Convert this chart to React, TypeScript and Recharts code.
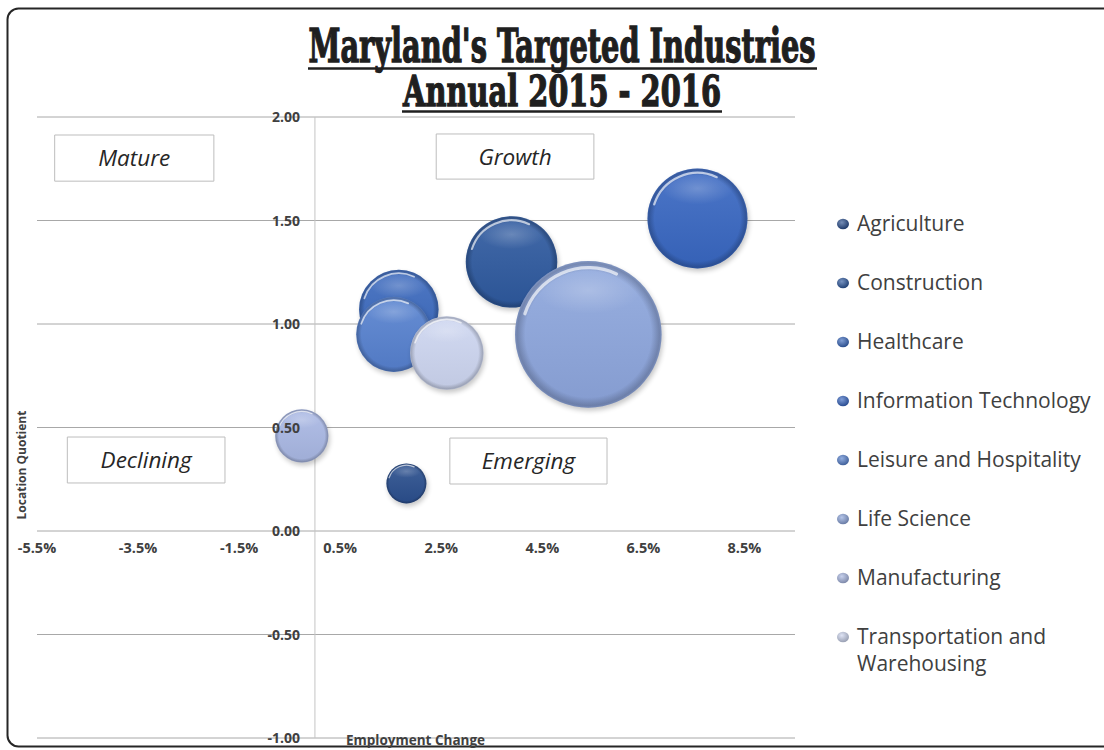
import React from 'react';
import {
  ScatterChart,
  Scatter,
  XAxis,
  YAxis,
  ZAxis,
  CartesianGrid,
  ReferenceLine,
  ReferenceArea,
  Legend,
  Label,
} from 'recharts';

// ---------------- data ----------------
const industries = [
  'Agriculture',
  'Construction',
  'Healthcare',
  'Information Technology',
  'Leisure and Hospitality',
  'Life Science',
  'Manufacturing',
  'Transportation and Warehousing',
];
const employmentChange = [1.81, 3.89, 1.66, 7.57, 1.56, 5.41, -0.26, 2.61];
const locationQuotient = [0.23, 1.3, 1.07, 1.51, 0.95, 0.95, 0.46, 0.86];
const bubbleSize = [4.0, 20.9, 15.8, 25.0, 14.1, 53.7, 7.1, 13.5];
const seriesColors = ['#2b4f8e', '#2e599f', '#3b69bd', '#3867c2', '#5681cf', '#8da6dd', '#a9b8e4', '#cdd6f0'];

const xTicks = [-5.5, -3.5, -1.5, 0.5, 2.5, 4.5, 6.5, 8.5];
const yTicks = [-1, -0.5, 0, 0.5, 1, 1.5, 2];

const quadrantNames = ['Mature', 'Growth', 'Declining', 'Emerging'];
const quadrantX1 = [-5.15, 2.4, -4.9, 2.67];
const quadrantX2 = [-2.0, 5.52, -1.78, 5.78];
const quadrantY1 = [1.69, 1.7, 0.232, 0.227];
const quadrantY2 = [1.913, 1.918, 0.454, 0.449];

const titleLines = ["Maryland's Targeted Industries", 'Annual 2015 - 2016'];

// ---------------- layout ----------------
const W = 1104;
const H = 750;
const X_MIN = -5.5;
const X_MAX = 9.5;
const Y_MIN = -1;
const Y_MAX = 2;
const Y_AXIS_W = 1;
const X_AXIS_H = 1;
const M = { top: 117, right: 309, bottom: 11, left: 36 };
const PLOT_LEFT = M.left + Y_AXIS_W;
const PLOT_W = W - PLOT_LEFT - M.right;
const PLOT_H = H - M.top - M.bottom - X_AXIS_H;
const ZERO_X = PLOT_LEFT + ((0 - X_MIN) / (X_MAX - X_MIN)) * PLOT_W;
const ZERO_Y = M.top + ((Y_MAX - 0) / (Y_MAX - Y_MIN)) * PLOT_H;

const FONT = "'Open Sans', 'Noto Sans', sans-serif";
const TXT = '#404040';

function mix(hex: string, target: string, t: number) {
  const a = parseInt(hex.slice(1), 16);
  const b = parseInt(target.slice(1), 16);
  const ch = (v: number, s: number) => (v >> s) & 255;
  const c = (s: number) => Math.round(ch(a, s) + (ch(b, s) - ch(a, s)) * t);
  return `rgb(${c(16)},${c(8)},${c(0)})`;
}

const Bubble = (props: any) => {
  const { cx, cy, width, color, id } = props;
  if (cx == null || cy == null) return null;
  const r = width / 2;
  const dark = mix(color, '#000000', 0.45);
  const R = r * 0.91;
  const a1 = (198 * Math.PI) / 180;
  const a2 = (295 * Math.PI) / 180;
  const arc = `M ${cx + R * Math.cos(a1)} ${cy + R * Math.sin(a1)} A ${R} ${R} 0 0 1 ${cx + R * Math.cos(a2)} ${cy + R * Math.sin(a2)}`;
  return (
    <g>
      <defs>
        <linearGradient id={`lg${id}`} x1="0" y1="0" x2="0" y2="1">
          <stop offset="0" stopColor={mix(color, '#ffffff', 0.1)} />
          <stop offset="1" stopColor={mix(color, '#000000', 0.06)} />
        </linearGradient>
        <radialGradient id={`rg${id}`} cx="0.5" cy="0.5" r="0.5">
          <stop offset="0.86" stopColor={dark} stopOpacity="0" />
          <stop offset="0.97" stopColor={dark} stopOpacity="0.45" />
          <stop offset="1" stopColor={dark} stopOpacity="0.3" />
        </radialGradient>
        <radialGradient id={`hl${id}`} cx="0.5" cy="0.5" r="0.5">
          <stop offset="0" stopColor="#ffffff" stopOpacity="0.22" />
          <stop offset="1" stopColor="#ffffff" stopOpacity="0" />
        </radialGradient>
        <filter id={`sh${id}`} x="-30%" y="-30%" width="160%" height="160%">
          <feGaussianBlur stdDeviation="2.5" />
        </filter>
      </defs>
      <circle cx={cx + 1.5} cy={cy + 3} r={r} fill="#000" opacity={0.22} filter={`url(#sh${id})`} />
      <circle cx={cx} cy={cy} r={r} fill={`url(#lg${id})`} />
      <circle cx={cx} cy={cy} r={r} fill={`url(#rg${id})`} />
      <ellipse cx={cx} cy={cy - r * 0.6} rx={r * 0.72} ry={r * 0.32} fill={`url(#hl${id})`} />
      <path d={arc} stroke="#ffffff" strokeOpacity={0.65} strokeWidth={Math.max(1.2, r * 0.045)} fill="none" strokeLinecap="round" />
    </g>
  );
};

const XTick = (props: any) => {
  const { x, payload } = props;
  return (
    <text x={x} y={ZERO_Y + 22} textAnchor="middle" fontFamily={FONT} fontWeight={700} fontSize={14.5} fill={TXT}>
      {`${payload.value.toFixed(1)}%`}
    </text>
  );
};

const YTick = (props: any) => {
  const { y, payload } = props;
  return (
    <text x={ZERO_X - 15} y={y} dy="0.36em" textAnchor="end" fontFamily={FONT} fontWeight={700} fontSize={14} fill={TXT}>
      {payload.value.toFixed(2)}
    </text>
  );
};

const renderLegend = (props: any) => {
  const payload = props.payload || [];
  return (
    <div style={{ fontFamily: FONT, fontSize: 21, color: TXT }}>
      {payload.map((entry: any, i: number) => (
        <div key={entry.value} style={{ display: 'flex', alignItems: 'flex-start', lineHeight: '27px', marginBottom: 32 }}>
          <svg width={24} height={27} style={{ flex: 'none' }}>
            <defs>
              <radialGradient id={`lgm${i}`} cx="0.4" cy="0.35" r="0.65">
                <stop offset="0" stopColor={mix(entry.color, '#ffffff', 0.35)} />
                <stop offset="1" stopColor={mix(entry.color, '#000000', 0.25)} />
              </radialGradient>
            </defs>
            <ellipse cx={10} cy={14} rx={6} ry={5.2} fill={`url(#lgm${i})`} />
          </svg>
          <span style={{ width: 245 }}>{entry.value}</span>
        </div>
      ))}
    </div>
  );
};

export default function App() {
  const series = industries.map((name, i) => ({
    name,
    color: seriesColors[i],
    data: [{ x: employmentChange[i], y: locationQuotient[i], z: bubbleSize[i] }],
  }));

  return (
    <div style={{ position: 'absolute', left: 0, top: 0, width: W, height: H, background: '#fff', overflow: 'hidden' }}>
      <ScatterChart width={W} height={H} margin={M} style={{ fontFamily: FONT }}>
        <CartesianGrid horizontal vertical={false} stroke="#a8a8a8" strokeWidth={1} />
        <XAxis
          type="number"
          dataKey="x"
          domain={[X_MIN, X_MAX]}
          ticks={xTicks}
          height={X_AXIS_H}
          axisLine={false}
          tickLine={false}
          tick={<XTick />}
          allowDataOverflow
          interval={0}
        />
        <YAxis
          type="number"
          dataKey="y"
          domain={[Y_MIN, Y_MAX]}
          ticks={yTicks}
          width={Y_AXIS_W}
          axisLine={false}
          tickLine={false}
          tick={<YTick />}
          allowDataOverflow
          interval={0}
        />
        <ZAxis type="number" dataKey="z" domain={[0, 100]} range={[0, 31416]} />
        <ReferenceLine x={0} stroke="#c4c4c4" strokeWidth={1} />
        {quadrantNames.map((q, i) => (
          <ReferenceArea
            key={q}
            x1={quadrantX1[i]}
            x2={quadrantX2[i]}
            y1={quadrantY1[i]}
            y2={quadrantY2[i]}
            fill="#ffffff"
            fillOpacity={1}
            stroke="#bdbdbd"
            strokeWidth={1}
          >
            <Label value={q} position="center" fontFamily={FONT} fontStyle="italic" fontSize={22.5} fill="#262626" />
          </ReferenceArea>
        ))}
        {series.map((s, i) => (
          <Scatter
            key={s.name}
            name={s.name}
            data={s.data}
            fill={s.color}
            isAnimationActive={false}
            shape={(p: any) => <Bubble {...p} color={s.color} id={i} />}
          />
        ))}
        <Legend
          layout="horizontal"
          align="center"
          verticalAlign="middle"
          wrapperStyle={{ left: 833, top: 210, width: 271, height: 'auto' }}
          content={renderLegend}
        />
      </ScatterChart>
      <svg width={W} height={H} style={{ position: 'absolute', left: 0, top: 0, pointerEvents: 'none' }}>
        <rect x={7.5} y={8.5} width={1300} height={738} rx={11} ry={11} fill="none" stroke="#262626" strokeWidth={2} />
        <text
          textAnchor="middle"
          lengthAdjust="spacingAndGlyphs"
          fontFamily="'DejaVu Serif Condensed', 'DejaVu Serif', serif"
          fontWeight={700}
          fill="#1f1f1f"
          stroke="#1f1f1f"
          strokeWidth={1.3}
        >
          <tspan x={562} y={62} fontSize={46} textLength={507} lengthAdjust="spacingAndGlyphs">
            {titleLines[0]}
          </tspan>
          <tspan x={562} y={106} fontSize={43} textLength={318} lengthAdjust="spacingAndGlyphs">
            {titleLines[1]}
          </tspan>
        </text>
        <line x1={308} x2={817} y1={68.5} y2={68.5} stroke="#1f1f1f" strokeWidth={2.5} />
        <line x1={402} x2={722} y1={111.5} y2={111.5} stroke="#1f1f1f" strokeWidth={2.5} />
        <text
          x={26}
          y={465}
          transform="rotate(-90 26 465)"
          textAnchor="middle"
          fontFamily={FONT}
          fontWeight={700}
          fontSize={12}
          fill={TXT}
        >
          Location Quotient
        </text>
        <text x={346} y={745} fontFamily={FONT} fontWeight={700} fontSize={13.5} fill={TXT}>
          Employment Change
        </text>
      </svg>
    </div>
  );
}
